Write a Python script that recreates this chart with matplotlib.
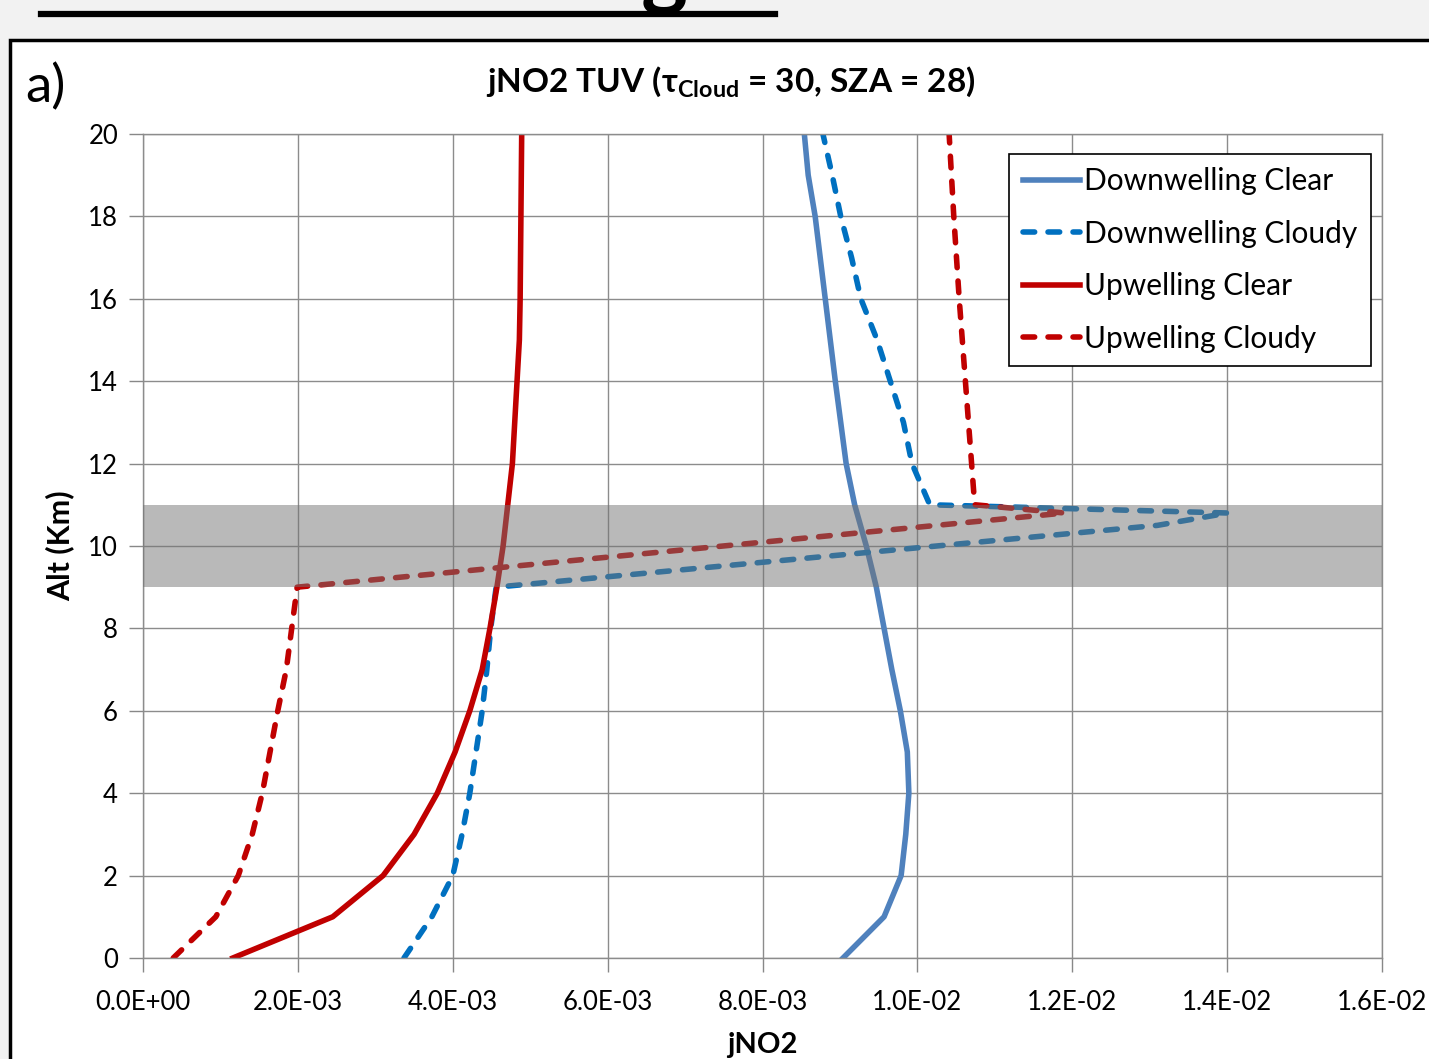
import matplotlib
matplotlib.use('Agg')
import matplotlib.pyplot as plt
from matplotlib.patches import Rectangle
from matplotlib.ticker import FuncFormatter

plt.rcParams['font.family'] = ['Lato', 'DejaVu Sans']
plt.rcParams['mathtext.fontset'] = 'custom'
plt.rcParams['mathtext.rm'] = 'Lato'
plt.rcParams['mathtext.bf'] = 'Lato:bold'

# altitudes (km) and jNO2 values
alt_dn_clear = [0, 1, 2, 3, 4, 5, 6, 7, 8, 9, 10, 11, 12, 14, 16, 18, 19, 20]
dn_clear = [0.00904, 0.00957, 0.00979, 0.00985, 0.00989, 0.00987, 0.00978, 0.00967,
            0.00957, 0.00947, 0.00934, 0.00919, 0.00908, 0.00894, 0.00881, 0.00868,
            0.00859, 0.00854]

alt_dn_cloudy = [0, 1, 2, 3, 4, 5, 6, 7, 8, 9, 10.5, 10.8, 11, 12, 13, 14, 15, 16, 17, 18, 19, 20]
dn_cloudy = [0.00337, 0.00373, 0.00400, 0.00412, 0.00422, 0.00430, 0.00438, 0.00444,
             0.00449, 0.00456, 0.01310, 0.01401, 0.01016, 0.00993, 0.00982, 0.00965,
             0.00948, 0.00927, 0.00915, 0.00901, 0.00890, 0.00878]

alt_up_clear = [0, 1, 2, 3, 4, 5, 6, 7, 8, 9, 10, 11, 12, 13, 14, 15, 16, 18, 20]
up_clear = [0.00116, 0.00245, 0.00310, 0.00350, 0.00380, 0.00403, 0.00422, 0.00438,
            0.00448, 0.00457, 0.00465, 0.00471, 0.00477, 0.00480, 0.00483, 0.00486,
            0.00487, 0.00488, 0.00489]

alt_up_cloudy = [0, 1, 2, 3, 4, 5, 6, 7, 8, 9, 10.8, 11, 12, 14, 16, 18, 20]
up_cloudy = [0.00039, 0.00094, 0.00123, 0.00141, 0.00154, 0.00164, 0.00174, 0.00185,
             0.00192, 0.00199, 0.01190, 0.01074, 0.01070, 0.01062, 0.01054, 0.01047,
             0.01041]

x_ticks = [0, 0.002, 0.004, 0.006, 0.008, 0.010, 0.012, 0.014, 0.016]
y_ticks = [0, 2, 4, 6, 8, 10, 12, 14, 16, 18, 20]
cloud_base, cloud_top = 9, 11

fig = plt.figure(figsize=(14.29, 10.59), dpi=100, facecolor='#F2F2F2')

# panel frame (white box with black border, running off the right/bottom edge)
fig.patches.append(Rectangle((0.007, -0.02), 1.1, 0.982, transform=fig.transFigure,
                             facecolor='white', edgecolor='black', lw=2.5, zorder=-5))
# page heading above the frame, mostly cut off by the top edge
fig.text(0.029, 1.002, 'Pre-Stacked Flight', fontsize=64, fontweight='bold',
         ha='left', va='baseline', color='black')
fig.add_artist(plt.Line2D([0.029, 0.542], [0.9868, 0.9868], transform=fig.transFigure,
                          color='black', lw=4.5))

ax = fig.add_axes([0.1001, 0.0954, 0.8670, 0.7781])
ax.set_facecolor('white')

lw = 4.0
dash = (2.1, 2.4)
ax.plot(dn_clear, alt_dn_clear, color='#4F81BD', lw=lw, label='Downwelling Clear')
ax.plot(dn_cloudy, alt_dn_cloudy, color='#0070C0', lw=lw, dashes=dash,
        dash_capstyle='round', label='Downwelling Cloudy')
ax.plot(up_clear, alt_up_clear, color='#C00000', lw=lw, label='Upwelling Clear')
ax.plot(up_cloudy, alt_up_cloudy, color='#C00000', lw=lw, dashes=dash,
        dash_capstyle='round', label='Upwelling Cloudy')

# cloud layer, shaded over the lines
ax.axhspan(cloud_base, cloud_top, color='#747474', alpha=0.5, lw=0, zorder=5)

ax.set_xlim(0, 0.016)
ax.set_ylim(0, 20)
ax.set_xticks(x_ticks)
ax.set_yticks(y_ticks)
ax.xaxis.set_major_formatter(FuncFormatter(lambda v, p: f'{v:.1E}'))
ax.tick_params(labelsize=18.5, length=10, width=1, color='#888888')
ax.tick_params(axis='x', pad=13)
ax.tick_params(axis='y', pad=8)
ax.grid(True, color='#8C8C8C', lw=1)
ax.set_axisbelow(True)
for s in ax.spines.values():
    s.set_color('#8C8C8C')
    s.set_linewidth(1)

ax.set_xlabel('jNO2', fontsize=21, fontweight='bold', labelpad=12)
ax.set_ylabel('Alt (Km)', fontsize=22, fontweight='bold', labelpad=10)

leg = ax.legend(loc='upper right', bbox_to_anchor=(0.991, 0.976), fontsize=21.5,
                handlelength=1.9, handletextpad=0.15, borderpad=0.45, labelspacing=0.82,
                borderaxespad=0, fancybox=False, framealpha=1, edgecolor='black')
leg.get_frame().set_linewidth(1.2)
leg.set_zorder(10)

fig.text(0.5116, 0.922, r'jNO2 TUV (τ$_{\mathbf{Cloud}}$ = 30, SZA = 28)',
         fontsize=24, fontweight='bold', ha='center', va='center')
fig.text(0.018, 0.918, 'a)', fontsize=38, ha='left', va='center')

fig.savefig('out.png', dpi=100, facecolor=fig.get_facecolor())
